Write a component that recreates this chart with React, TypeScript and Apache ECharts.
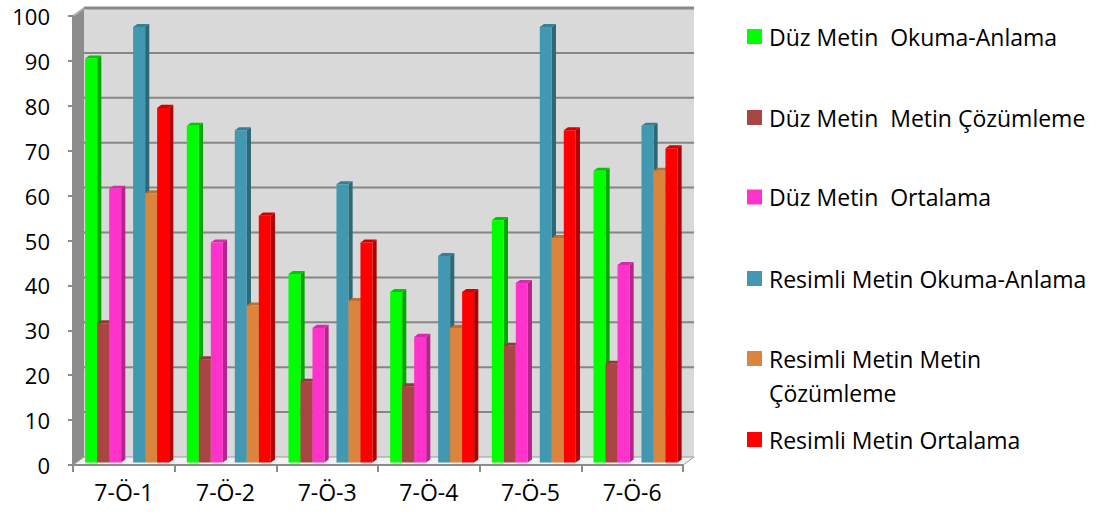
import React, { useEffect, useRef } from "react";
import * as echarts from "echarts";

// Categories (students) and the six measured scores
const categories = ["7-Ö-1", "7-Ö-2", "7-Ö-3", "7-Ö-4", "7-Ö-5", "7-Ö-6"];
const duzOkumaAnlama = [90, 75, 42, 38, 54, 65];
const duzMetinCozumleme = [31, 23, 18, 17, 26, 22];
const duzOrtalama = [61, 49, 30, 28, 40, 44];
const resimliOkumaAnlama = [97, 74, 62, 46, 97, 75];
const resimliMetinCozumleme = [60, 35, 36, 30, 50, 65];
const resimliOrtalama = [79, 55, 49, 38, 74, 70];

const seriesNames = [
  "Düz Metin  Okuma-Anlama",
  "Düz Metin  Metin Çözümleme",
  "Düz Metin  Ortalama",
  "Resimli Metin Okuma-Anlama",
  "Resimli Metin Metin Çözümleme",
  "Resimli Metin Ortalama",
];
// legend labels, with the long one wrapped onto two lines
const legendLabels = [
  "Düz Metin  Okuma-Anlama",
  "Düz Metin  Metin Çözümleme",
  "Düz Metin  Ortalama",
  "Resimli Metin Okuma-Anlama",
  "Resimli Metin Metin\nÇözümleme",
  "Resimli Metin Ortalama",
];
const seriesValues = [
  duzOkumaAnlama,
  duzMetinCozumleme,
  duzOrtalama,
  resimliOkumaAnlama,
  resimliMetinCozumleme,
  resimliOrtalama,
];
// front / side / top face colours of each 3D column
const palette = [
  { front: "#00ff00", side: "#00a800", top: "#00c800" },
  { front: "#a94643", side: "#77302e", top: "#8e3a37" },
  { front: "#ff33cc", side: "#b8228f", top: "#d82aae" },
  { front: "#4298b0", side: "#2c6878", top: "#377f93" },
  { front: "#db843d", side: "#a05e28", top: "#bd7032" },
  { front: "#ff0000", side: "#b00000", top: "#d40000" },
];
// slot of each series inside a category (slot 3 is left empty)
const slots = [0, 1, 2, 4, 5, 6];
const SLOT_COUNT = 7;
const SLOT_RATIO = 0.118;

const yTicks = [0, 10, 20, 30, 40, 50, 60, 70, 80, 90, 100];

// depth of the 3D box in pixels, and where the columns sit inside it
const DX = 11;
const DY = -8;
const F = 0.3;
const B = 0.68;

const FONT = "Open Sans";

export default function App() {
  const ref = useRef<HTMLDivElement>(null);

  useEffect(() => {
    if (!ref.current) return;
    const chart = echarts.init(ref.current, undefined, { renderer: "svg" });

    const wallSeries = {
      type: "custom",
      silent: true,
      z: 1,
      data: [[0, 0]],
      renderItem: (params: any, api: any) => {
        const cs = params.coordSys;
        const left = cs.x;
        const top = cs.y;
        const right = cs.x + cs.width;
        const bottom = cs.y + cs.height;
        const children: any[] = [];
        children.push({
          type: "rect",
          shape: { x: left + DX, y: top + DY, width: cs.width, height: cs.height },
          style: { fill: "#d9d9d9" },
        });
        children.push({
          type: "polygon",
          shape: {
            points: [
              [left, top],
              [left + DX, top + DY],
              [left + DX, bottom + DY],
              [left, bottom],
            ],
          },
          style: { fill: "#8c8c8c" },
        });
        children.push({
          type: "line",
          shape: { x1: left, y1: top, x2: left + DX, y2: top + DY },
          style: { stroke: "#b4b4b4", lineWidth: 2 },
        });
        children.push({
          type: "polygon",
          shape: {
            points: [
              [left, bottom],
              [left + DX, bottom + DY],
              [right + DX, bottom + DY],
              [right, bottom],
            ],
          },
          style: { fill: "#f2f2f2", stroke: "#9a9a9a", lineWidth: 1 },
        });
        yTicks.forEach((v) => {
          if (v === 0) return;
          const y = api.coord([0, v])[1] + DY;
          children.push({
            type: "line",
            shape: { x1: left + DX, y1: y, x2: right + DX, y2: y },
            style: { stroke: v === 100 ? "#8a8a8a" : "#868686", lineWidth: v === 100 ? 3 : 2 },
          });
        });
        return { type: "group", children };
      },
    };

    const barSeries = seriesValues.map((vals, si) => ({
      type: "custom",
      name: seriesNames[si],
      z: 2,
      data: vals.map((v, ci) => [ci, v]),
      renderItem: (params: any, api: any) => {
        const cat = api.value(0);
        const val = api.value(1);
        const base = api.coord([cat, 0]);
        const topPt = api.coord([cat, val]);
        const band = api.size([1, 0])[0];
        const w = band * SLOT_RATIO;
        const x0 = base[0] - (SLOT_COUNT * w) / 2 + slots[si] * w + DX * F;
        const yb = base[1] + DY * F;
        const yt = topPt[1] + DY * F;
        const sx = DX * (B - F);
        const sy = DY * (B - F);
        const c = palette[si];
        return {
          type: "group",
          children: [
            {
              type: "polygon",
              shape: {
                points: [
                  [x0 + w, yt],
                  [x0 + w + sx, yt + sy],
                  [x0 + w + sx, yb + sy],
                  [x0 + w, yb],
                ],
              },
              style: { fill: c.side },
            },
            {
              type: "polygon",
              shape: {
                points: [
                  [x0, yt],
                  [x0 + sx, yt + sy],
                  [x0 + w + sx, yt + sy],
                  [x0 + w, yt],
                ],
              },
              style: { fill: c.top },
            },
            {
              type: "rect",
              shape: { x: x0, y: yt, width: w, height: yb - yt },
              style: { fill: c.front },
            },
          ],
        };
      },
    }));

    // legend drawn as squares with labels beside them
    const legendRows = [36.5, 117.5, 197, 278.5, 358.5, 439.5];
    const legendGraphics: any[] = [];
    legendLabels.forEach((label, i) => {
      legendGraphics.push({
        type: "rect",
        left: 747,
        top: legendRows[i] - 7.5,
        shape: { width: 15, height: 15 },
        style: { fill: palette[i].front },
      });
      legendGraphics.push({
        type: "text",
        x: 769,
        y: legendRows[i] - 17,
        style: {
          text: label,
          fill: "#000000",
          font: `23px "${FONT}"`,
          lineHeight: 34,
          verticalAlign: "top",
        },
      });
    });

    chart.setOption({
      animation: false,
      backgroundColor: "#ffffff",
      grid: { left: 73, top: 16, right: 417, bottom: 48, containLabel: false },
      xAxis: {
        type: "category",
        data: categories,
        boundaryGap: true,
        axisLine: { show: true, lineStyle: { color: "#8c8c8c", width: 2 } },
        axisTick: { show: true, length: 7, alignWithLabel: false, lineStyle: { color: "#8c8c8c", width: 2 } },
        axisLabel: { color: "#000000", fontSize: 23, fontFamily: FONT, margin: 15 },
        splitLine: { show: false },
        z: 3,
      },
      yAxis: {
        type: "value",
        min: 0,
        max: 100,
        interval: 10,
        axisLine: { show: true, lineStyle: { color: "#8c8c8c", width: 2 } },
        axisTick: { show: true, length: 5, lineStyle: { color: "#8c8c8c", width: 2 } },
        axisLabel: { color: "#000000", fontSize: 22, fontFamily: FONT, margin: 23 },
        splitLine: { show: false },
        z: 3,
      },
      series: [wallSeries, ...barSeries],
      graphic: legendGraphics,
    });

    return () => chart.dispose();
  }, []);

  return (
    <div
      ref={ref}
      style={{ position: "fixed", left: 0, top: 0, width: 1100, height: 513 }}
    />
  );
}
